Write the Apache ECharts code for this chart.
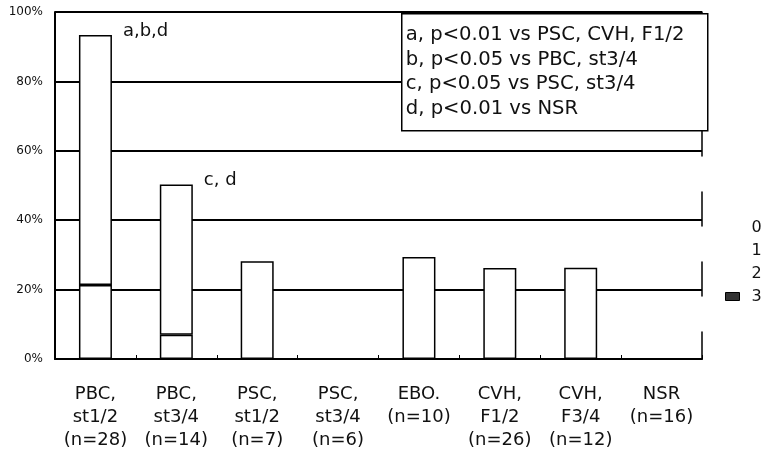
<!DOCTYPE html>
<html>
<head>
<meta charset="utf-8">
<script src="https://cdn.jsdelivr.net/npm/echarts@6/dist/echarts.min.js"></script>
<style>
  html, body { margin: 0; padding: 0; background: #fff; }
  #chart { width: 765px; height: 452px; }
</style>
</head>
<body>
<div id="chart"></div>
<script>
// categories (x axis)
const categories = [
  'PBC,\nst1/2\n(n=28)', 'PBC,\nst3/4\n(n=14)', 'PSC,\nst1/2\n(n=7)', 'PSC,\nst3/4\n(n=6)',
  'EBO.\n(n=10)', 'CVH,\nF1/2\n(n=26)', 'CVH,\nF3/4\n(n=12)', 'NSR\n(n=16)'
];

// stacked values, percent (bottom segment = "2", upper segment = "1")
const grade3 = [null, null, null, null, null, null, null, null];
const grade2 = [21.3, 7.0, 28.2, null, 29.4, 26.2, 26.3, null];
const grade1 = [72.1, 43.3, null, null, null, null, null, null];
const grade0 = [null, null, null, null, null, null, null, null];

// significance marks above bars
const marks = ['a,b,d', 'c, d', '', '', '', '', '', ''];

// note box lines
const noteLines = [
  'a, p<0.01 vs PSC, CVH, F1/2',
  'b, p<0.05 vs PBC, st3/4',
  'c, p<0.05 vs PSC, st3/4',
  'd, p<0.01 vs NSR'
];

const legendNames = ['0', '1', '2', '3'];
const yTicks = [0, 20, 40, 60, 80, 100];

const FONT = 'DejaVu Sans';

const chart = echarts.init(document.getElementById('chart'));

const barStyle = {
  color: '#fff',
  borderColor: '#000',
  borderWidth: 1.5
};

const makeSeries = (name, values, withMarks) => ({
  name: name,
  type: 'bar',
  stack: 'total',
  barWidth: 33,
  itemStyle: name === '3' ? { color: '#333', borderColor: '#000', borderWidth: 1 } : barStyle,
  data: values.map((v, i) => ({
    value: v == null ? '-' : v,
    label: withMarks && marks[i] ? {
      show: true,
      formatter: marks[i],
      position: ['100%', 0],
      offset: [11, -4],
      align: 'left',
      verticalAlign: 'middle',
      fontFamily: FONT,
      fontSize: 18,
      color: '#111'
    } : { show: false }
  }))
});

const option = {
  animation: false,
  backgroundColor: '#fff',
  grid: { left: 55, right: 63, top: 12, bottom: 92 },
  legend: {
    orient: 'vertical',
    left: 720,
    top: 213,
    icon: 'rect',
    itemWidth: 14,
    itemHeight: 8,
    itemGap: 4,
    selectedMode: false,
    textStyle: { fontFamily: FONT, fontSize: 16, color: '#111', lineHeight: 19, padding: [0, 0, 0, 7] },
    data: legendNames.map(n => ({
      name: n,
      itemStyle: n === '3'
        ? { color: '#333', borderColor: '#000', borderWidth: 1 }
        : { color: 'rgba(0,0,0,0)', borderWidth: 0 }
    }))
  },
  xAxis: {
    type: 'category',
    data: categories,
    axisLine: { lineStyle: { color: '#000', width: 2 } },
    axisTick: { show: true, inside: true, length: 4, lineStyle: { color: '#000', width: 1 } },
    axisLabel: {
      interval: 0,
      margin: 24,
      fontFamily: FONT,
      fontSize: 18,
      lineHeight: 23,
      color: '#111',
      align: 'center'
    }
  },
  yAxis: [
    {
      type: 'value',
      min: yTicks[0],
      max: yTicks[yTicks.length - 1],
      interval: 20,
      axisLine: { show: true, lineStyle: { color: '#000', width: 2 } },
      axisTick: { show: false },
      axisLabel: {
        formatter: '{value}%',
        margin: 12,
        fontFamily: FONT,
        fontSize: 12,
        color: '#111',
        padding: [6, 0, 0, 0]
      },
      splitLine: { show: true, lineStyle: { color: '#000', width: 2 } }
    },
    {
      type: 'value',
      position: 'right',
      min: 0,
      max: 100,
      interval: 20,
      axisLine: { show: true, lineStyle: { color: '#000', width: 1.5, type: [34, 36], dashOffset: 7 } },
      axisTick: { show: false },
      axisLabel: { show: false },
      splitLine: { show: false }
    }
  ],
  series: [
    makeSeries('3', grade3, false),
    makeSeries('2', grade2, false),
    makeSeries('1', grade1, true),
    makeSeries('0', grade0, false)
  ],
  graphic: [
    {
      type: 'group',
      left: 401,
      top: 13,
      z: 100,
      children: [
        {
          type: 'rect',
          z: 100,
          shape: { x: 0, y: 0, width: 306, height: 117 },
          style: { fill: '#fff', stroke: '#000', lineWidth: 1.5 }
        }
      ].concat(noteLines.map((t, i) => ({
        type: 'text',
        z: 101,
        x: 4,
        y: 21 + i * 24.7,
        style: {
          text: t,
          fontFamily: FONT,
          fontSize: 19.6,
          fill: '#111',
          textVerticalAlign: 'middle'
        }
      })))
    }
  ]
};

chart.setOption(option);
</script>
</body>
</html>
